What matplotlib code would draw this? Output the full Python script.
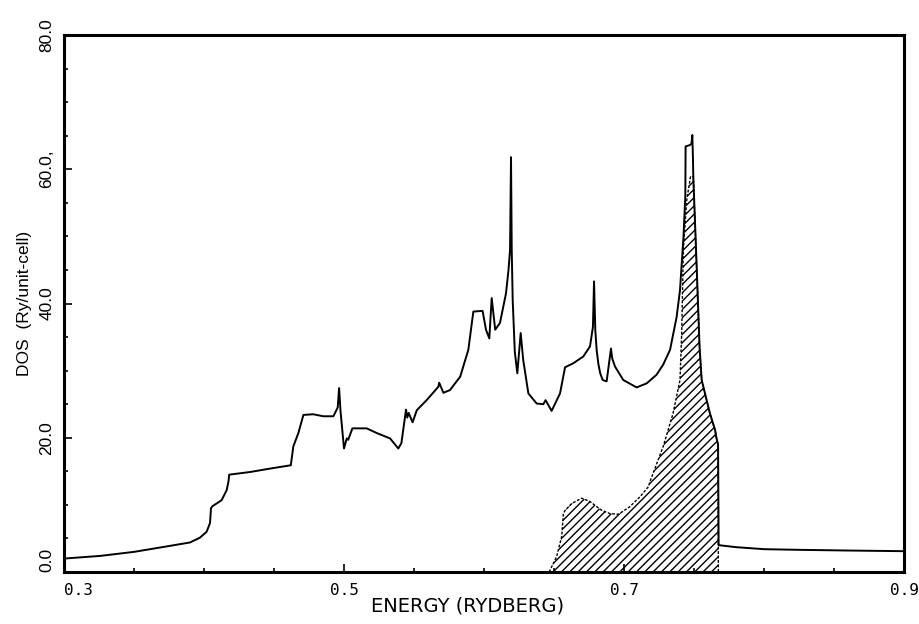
import matplotlib
matplotlib.use("Agg")
import matplotlib.pyplot as plt
from matplotlib.ticker import MultipleLocator, FixedLocator

# ---- data ----
energy = [0.300, 0.326, 0.350, 0.373, 0.390, 0.397, 0.4019, 0.4043, 0.4050,
          0.4060, 0.4126, 0.4162, 0.4175, 0.4180, 0.433, 0.447, 0.462, 0.4638, 0.4674,
          0.471, 0.478, 0.4852, 0.4924, 0.4955, 0.4965, 0.4975, 0.5000, 0.502, 0.503,
          0.506, 0.5162, 0.5234, 0.5329, 0.5388, 0.541, 0.5443, 0.5452, 0.5462, 0.549,
          0.552, 0.559, 0.5674, 0.568, 0.571, 0.5757, 0.583, 0.5888, 0.5924, 0.599,
          0.6014, 0.6038, 0.6055, 0.608, 0.6114, 0.6157, 0.6175, 0.6186, 0.6193, 0.6198,
          0.6205, 0.622, 0.6238, 0.6262, 0.628, 0.6317, 0.6376, 0.6424, 0.644, 0.6483,
          0.6543, 0.6579, 0.6638, 0.6709, 0.6757, 0.6778, 0.6786, 0.6795, 0.6805, 0.6817,
          0.6830, 0.6848, 0.6876, 0.6907, 0.6916, 0.6936, 0.6995, 0.709, 0.7162, 0.7233,
          0.728, 0.7329, 0.7376, 0.740, 0.7425, 0.7438, 0.7440, 0.7470, 0.7482, 0.7488,
          0.7492, 0.7495, 0.7519, 0.754, 0.7555, 0.7614, 0.765, 0.766, 0.7672, 0.7676,
          0.780, 0.800, 0.8257, 0.860, 0.900]
dos = [2.0, 2.4, 3.0, 3.8, 4.4, 5.1, 6.0, 7.3, 9.5,
       9.8, 10.7, 12.2, 13.5, 14.5, 14.9, 15.4, 15.9, 18.7, 20.7,
       23.4, 23.5, 23.2, 23.2, 24.5, 27.4, 24.0, 18.4, 19.9, 19.7,
       21.4, 21.4, 20.7, 19.9, 18.4, 19.2, 24.2, 23.0, 23.7, 22.3,
       24.1, 25.6, 27.6, 28.2, 26.7, 27.1, 29.1, 33.1, 38.8, 38.9,
       36.1, 34.8, 40.8, 36.1, 37.1, 41.5, 45.0, 48.0, 61.8, 48.0,
       40.5, 32.8, 29.6, 35.6, 31.6, 26.6, 25.1, 25.0, 25.6, 24.0,
       26.6, 30.5, 31.1, 32.1, 33.6, 36.5, 43.3, 36.0, 33.0, 31.0,
       29.6, 28.6, 28.4, 33.3, 31.8, 30.6, 28.6, 27.5, 28.1, 29.4,
       30.9, 33.1, 38.0, 42.0, 50.0, 56.0, 63.4, 63.6, 63.8, 65.1,
       62.0, 58.9, 45.5, 33.4, 28.6, 23.6, 21.2, 20.0, 19.0, 4.0,
       3.7, 3.4, 3.3, 3.2, 3.1]

# partial (hatched) DOS
p_energy = [0.6465, 0.6519, 0.6555, 0.6567, 0.658, 0.6626, 0.6698, 0.6757, 0.684, 0.690,
            0.696, 0.704, 0.7114, 0.7174, 0.7186, 0.728, 0.735, 0.740, 0.7412, 0.7424,
            0.7448, 0.7475, 0.7495, 0.7519, 0.754, 0.7555, 0.7614, 0.765, 0.766, 0.7672,
            0.7674]
p_dos = [0.0, 2.3, 5.3, 8.7, 9.2, 10.2, 11.0, 10.5, 9.2, 8.7,
         8.6, 9.7, 11.2, 12.7, 13.5, 18.7, 23.6, 28.6, 35.6, 48.0,
         55.4, 58.9, 58.9, 45.5, 33.4, 28.6, 23.6, 21.2, 20.0, 19.0,
         0.0]

x_major = [0.3, 0.5, 0.7, 0.9]
x_labels = ["0.3", "0.5", "0.7", "0.9"]
y_major = [0, 20, 40, 60, 80]
y_labels = ["0.0", "20.0", "40.0", "60.0,", "80.0"]

plt.rcParams['hatch.color'] = 'black'
plt.rcParams['hatch.linewidth'] = 1.0

W, H = 919, 624
fig = plt.figure(figsize=(W / 100, H / 100), dpi=100)
L, R, T, B = 64, 904, 35, 572
ax = fig.add_axes([L / W, (H - B) / H, (R - L) / W, (B - T) / H])

ax.fill_between(p_energy, 0, p_dos, facecolor='none', edgecolor='black',
                hatch='////', linewidth=0)
ax.plot(p_energy, p_dos, color='black', lw=1.0, linestyle=(0, (2, 1.2)))
ax.plot(energy, dos, color='black', lw=1.4, solid_joinstyle='round')

ax.set_xlim(0.3, 0.9)
ax.set_ylim(0, 80)

for s in ax.spines.values():
    s.set_linewidth(2.2)

ax.xaxis.set_major_locator(FixedLocator(x_major))
ax.xaxis.set_minor_locator(MultipleLocator(0.05))
ax.yaxis.set_major_locator(FixedLocator(y_major))
ax.yaxis.set_minor_locator(MultipleLocator(5))
ax.tick_params(which='both', direction='in', width=1.2, top=False, right=False)
ax.tick_params(which='major', length=6)
ax.tick_params(which='minor', length=3)
ax.tick_params(axis='x', which='major', pad=8)
ax.tick_params(axis='y', which='major', pad=7)

ax.set_xticklabels(x_labels, family=['DejaVu Sans Mono'], fontsize=11.5)
ax.set_yticklabels(y_labels, rotation=90, va='center',
                   family=['Liberation Sans', 'DejaVu Sans'], fontsize=12.5)
ax.get_xticklabels()[0].set_horizontalalignment('left')
ax.get_yticklabels()[0].set_verticalalignment('bottom')

ax.set_xlabel('ENERGY (RYDBERG)', family=['DejaVu Sans'], fontsize=14)
ax.xaxis.set_label_coords((468 - L) / (R - L), (B - 597) / (B - T))
ax.set_ylabel('DOS  (Ry/unit-cell)', family=['Liberation Sans', 'DejaVu Sans'],
              fontsize=12.5)
ax.yaxis.set_label_coords((32 - L) / (R - L), 0.5)

fig.savefig('out.png', dpi=100)
